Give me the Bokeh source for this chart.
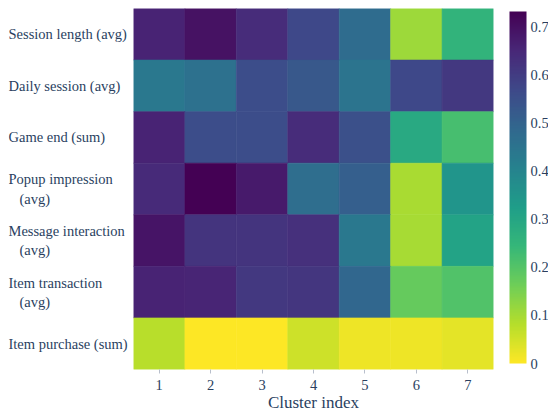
from bokeh.plotting import figure
from bokeh.layouts import row
from bokeh.models import (ColumnDataSource, LinearColorMapper, ColorBar, FixedTicker,
                          Range1d, FactorRange)
from bokeh.transform import transform
from bokeh.core.properties import value
from bokeh.embed import file_html
from bokeh.resources import INLINE

features = ["Session length (avg)", "Daily session (avg)", "Game end (sum)",
            "Popup impression (avg)", "Message interaction (avg)",
            "Item transaction (avg)", "Item purchase (sum)"]
NB = "\u00a0\u00a0\u00a0"
feature_labels = ["Session length (avg)", "Daily session (avg)", "Game end (sum)",
                  "Popup impression\n" + NB + "(avg)", "Message interaction\n" + NB + "(avg)",
                  "Item transaction\n" + NB + "(avg)", "Item purchase (sum)"]
clusters = ["1", "2", "3", "4", "5", "6", "7"]

session_length = [0.66, 0.695, 0.64, 0.57, 0.475, 0.11, 0.256]
daily_session = [0.44, 0.46, 0.56, 0.53, 0.45, 0.57, 0.61]
game_end = [0.66, 0.56, 0.56, 0.64, 0.55, 0.29, 0.22]
popup_impression = [0.645, 0.732, 0.68, 0.47, 0.51, 0.095, 0.35]
message_interaction = [0.69, 0.62, 0.62, 0.63, 0.44, 0.10, 0.31]
item_transaction = [0.66, 0.655, 0.61, 0.615, 0.49, 0.175, 0.205]
item_purchase = [0.08, 0.0, 0.0, 0.055, 0.02, 0.02, 0.03]

rows = [session_length, daily_session, game_end, popup_impression,
        message_interaction, item_transaction, item_purchase]

cbar_ticks = [0, 0.1, 0.2, 0.3, 0.4, 0.5, 0.6, 0.7]
cbar_labels = ["0", "0.1", "0.2", "0.3", "0.4", "0.5", "0.6", "0.7"]

# Plotly-style Viridis colour stops, interpolated to a 256-colour palette (reversed: 0 = yellow)
stops = ["#440154", "#482878", "#3e4989", "#31688e", "#26828e",
         "#1f9e89", "#35b779", "#6ece58", "#b5de2b", "#fde725"]
def _rgb(h):
    return [int(h[i:i + 2], 16) for i in (1, 3, 5)]
pal = []
for k in range(256):
    t = k / 255 * (len(stops) - 1)
    i = min(int(t), len(stops) - 2)
    f = t - i
    a, b = _rgb(stops[i]), _rgb(stops[i + 1])
    pal.append("#%02x%02x%02x" % tuple(round(a[j] + (b[j] - a[j]) * f) for j in range(3)))
pal = pal[::-1]

xs, ys, vs = [], [], []
for f, r in zip(features, rows):
    for c, v in zip(clusters, r):
        xs.append(c); ys.append(f); vs.append(v)
src = ColumnDataSource(dict(cluster=xs, feature=ys, val=vs))

FONT = "Liberation Serif"
TXT = "#2a3f5f"
FH = 361
TOP = 8

mapper = LinearColorMapper(palette=pal, low=0, high=max(vs))

y_range = FactorRange(factors=list(reversed(features)))

p = figure(x_range=FactorRange(factors=clusters), y_range=y_range,
           frame_width=360, frame_height=FH, output_backend="svg",
           toolbar_location=None, y_axis_location=None,
           min_border_left=0, min_border_top=TOP, min_border_right=55, min_border_bottom=0)
p.rect(x="cluster", y="feature", width=1, height=1, source=src,
       fill_color=transform("val", mapper), line_color=transform("val", mapper),
       line_width=0.6)
p.grid.visible = False
p.outline_line_color = None
ax = p.xaxis[0]
ax.axis_line_color = None
ax.major_tick_in = 0
ax.major_tick_out = 4
ax.major_tick_line_color = "#b8bfcc"
ax.major_label_standoff = 6
ax.major_label_text_font = FONT
ax.major_label_text_font_size = "14.5px"
ax.major_label_text_color = TXT
ax.axis_label = "Cluster index"
ax.axis_label_text_font = FONT
ax.axis_label_text_font_size = "17px"
ax.axis_label_text_font_style = "normal"
ax.axis_label_text_color = TXT
ax.axis_label_standoff = 0

cb = ColorBar(color_mapper=mapper, ticker=FixedTicker(ticks=cbar_ticks),
              major_label_overrides=dict(zip(cbar_ticks, cbar_labels)),
              width=17, height=352, label_standoff=4, margin=0, padding=0,
              location=(16, 6),
              major_tick_line_color=None, bar_line_color=None, border_line_color=None,
              background_fill_color=None,
              major_label_text_font=FONT, major_label_text_font_size="14.5px",
              major_label_text_color=TXT)
p.add_layout(cb, "right")

lab = figure(x_range=Range1d(0, 1), y_range=y_range, frame_width=125, frame_height=FH,
             output_backend="svg", toolbar_location=None,
             x_axis_location=None, y_axis_location=None,
             min_border_left=8, min_border_top=TOP, min_border_right=0,
             min_border_bottom=416 - TOP - FH)
lab.text(x=0, y=features, text=feature_labels, text_align="left", text_baseline="middle",
         text_font=value(FONT), text_font_size="14.5px", text_color=TXT)
lab.grid.visible = False
lab.outline_line_color = None

layout = row(lab, p)
open("out.html", "w").write(file_html(layout, INLINE))
